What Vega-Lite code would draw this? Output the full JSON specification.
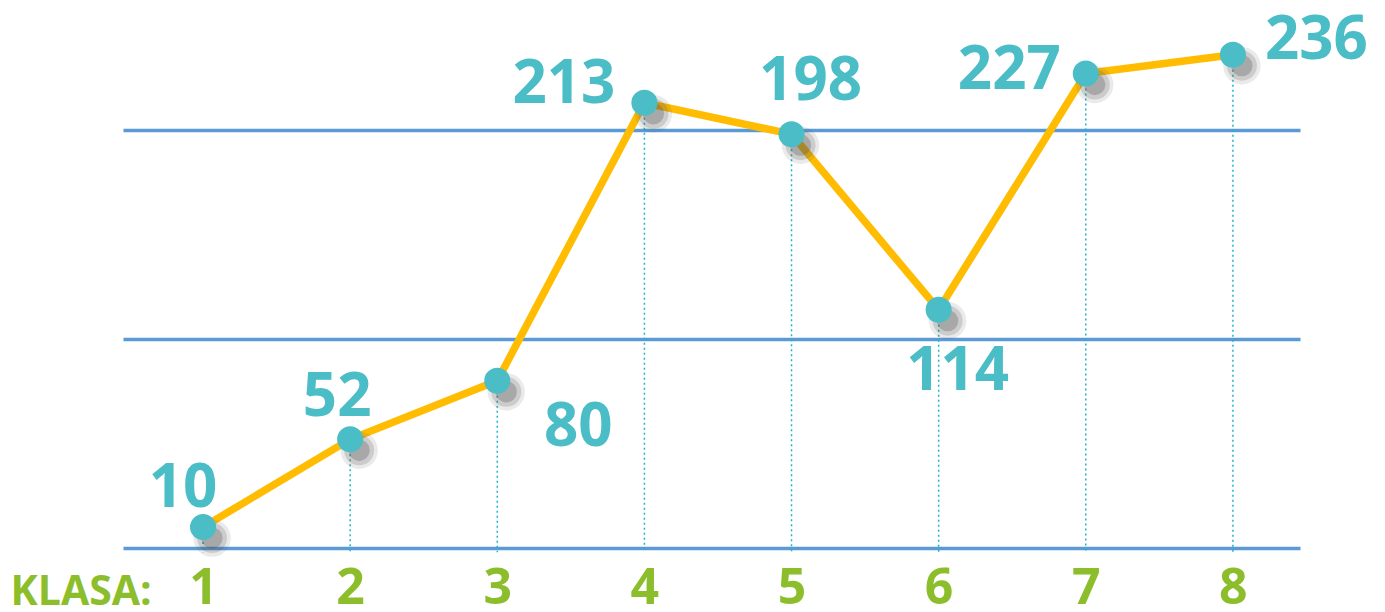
{
  "$schema": "https://vega.github.io/schema/vega-lite/v6.json",
  "width": 1177,
  "height": 548,
  "autosize": "none",
  "padding": {"left": 123, "top": 0, "right": 85, "bottom": 64},
  "background": "white",
  "config": {"view": {"stroke": null}, "font": "Open Sans"},
  "data": {"values": [
    {"klasa": 1, "v": 10},
    {"klasa": 2, "v": 52},
    {"klasa": 3, "v": 80},
    {"klasa": 4, "v": 213},
    {"klasa": 5, "v": 198},
    {"klasa": 6, "v": 114},
    {"klasa": 7, "v": 227},
    {"klasa": 8, "v": 236}
  ]},
  "encoding": {
    "x": {"field": "klasa", "type": "quantitative",
      "scale": {"domain": [0.456, 8.456], "nice": false, "zero": false},
      "axis": {"values": [1,2,3,4,5,6,7,8], "grid": false, "domain": false, "ticks": false,
        "labelFont": "Open Sans", "labelFontWeight": "bold", "labelFontSize": 50, "labelColor": "#8CBE2C",
        "labelPadding": 15, "labelFlush": false,
        "title": "KLASA:", "titleFont": "Open Sans", "titleFontWeight": "bold", "titleFontSize": 41, "titleColor": "#8CBE2C",
        "titleAngle": 0, "titleAlign": "left", "titleBaseline": "alphabetic", "titleX": -113, "titleY": 56}},
    "y": {"field": "v", "type": "quantitative",
      "scale": {"domain": [0, 262.2], "nice": false},
      "axis": {"values": [0, 100, 200], "grid": true, "gridColor": "#5B9BD5", "gridWidth": 3.5, "gridOpacity": 1,
        "labels": false, "ticks": false, "domain": false, "title": null}}
  },
  "layer": [
    {"mark": {"type": "rule", "color": "#1FB3C8", "strokeWidth": 1.5, "strokeDash": [2, 3]},
     "encoding": {"y2": {"datum": -2}}},
    {"mark": {"type": "line", "color": "#FFBC00", "strokeWidth": 7.5}},
    {"mark": {"type": "point", "filled": true, "shape": "circle", "color": "#555555", "opacity": 0.12, "size": 1400, "xOffset": 9, "yOffset": 11}},
    {"mark": {"type": "point", "filled": true, "shape": "circle", "color": "#555555", "opacity": 0.2, "size": 900, "xOffset": 9, "yOffset": 11}},
    {"mark": {"type": "point", "filled": true, "shape": "circle", "color": "#555555", "opacity": 0.3, "size": 450, "xOffset": 9, "yOffset": 11}},
    {"mark": {"type": "point", "filled": true, "shape": "circle", "color": "#4BBDC6", "opacity": 1, "size": 680}},
    {"transform": [{"filter": "datum.klasa == 1"}],
     "mark": {"type": "text", "font": "Open Sans", "fontWeight": "bold", "fontSize": 60, "color": "#4BBDC6", "align": "center", "baseline": "alphabetic", "dx": -20, "dy": -20},
     "encoding": {"text": {"field": "v"}}},
    {"transform": [{"filter": "datum.klasa == 2"}],
     "mark": {"type": "text", "font": "Open Sans", "fontWeight": "bold", "fontSize": 60, "color": "#4BBDC6", "align": "center", "baseline": "alphabetic", "dx": -13, "dy": -23},
     "encoding": {"text": {"field": "v"}}},
    {"transform": [{"filter": "datum.klasa == 3"}],
     "mark": {"type": "text", "font": "Open Sans", "fontWeight": "bold", "fontSize": 60, "color": "#4BBDC6", "align": "center", "baseline": "alphabetic", "dx": 81, "dy": 65},
     "encoding": {"text": {"field": "v"}}},
    {"transform": [{"filter": "datum.klasa == 4"}],
     "mark": {"type": "text", "font": "Open Sans", "fontWeight": "bold", "fontSize": 60, "color": "#4BBDC6", "align": "right", "baseline": "alphabetic", "dx": -29, "dy": 0},
     "encoding": {"text": {"field": "v"}}},
    {"transform": [{"filter": "datum.klasa == 5"}],
     "mark": {"type": "text", "font": "Open Sans", "fontWeight": "bold", "fontSize": 60, "color": "#4BBDC6", "align": "center", "baseline": "alphabetic", "dx": 19, "dy": -34},
     "encoding": {"text": {"field": "v"}}},
    {"transform": [{"filter": "datum.klasa == 6"}],
     "mark": {"type": "text", "font": "Open Sans", "fontWeight": "bold", "fontSize": 60, "color": "#4BBDC6", "align": "center", "baseline": "alphabetic", "dx": 19, "dy": 80},
     "encoding": {"text": {"field": "v"}}},
    {"transform": [{"filter": "datum.klasa == 7"}],
     "mark": {"type": "text", "font": "Open Sans", "fontWeight": "bold", "fontSize": 60, "color": "#4BBDC6", "align": "right", "baseline": "alphabetic", "dx": -25, "dy": 15},
     "encoding": {"text": {"field": "v"}}},
    {"transform": [{"filter": "datum.klasa == 8"}],
     "mark": {"type": "text", "font": "Open Sans", "fontWeight": "bold", "fontSize": 60, "color": "#4BBDC6", "align": "left", "baseline": "alphabetic", "dx": 32, "dy": 4},
     "encoding": {"text": {"field": "v"}}}
  ]
}
